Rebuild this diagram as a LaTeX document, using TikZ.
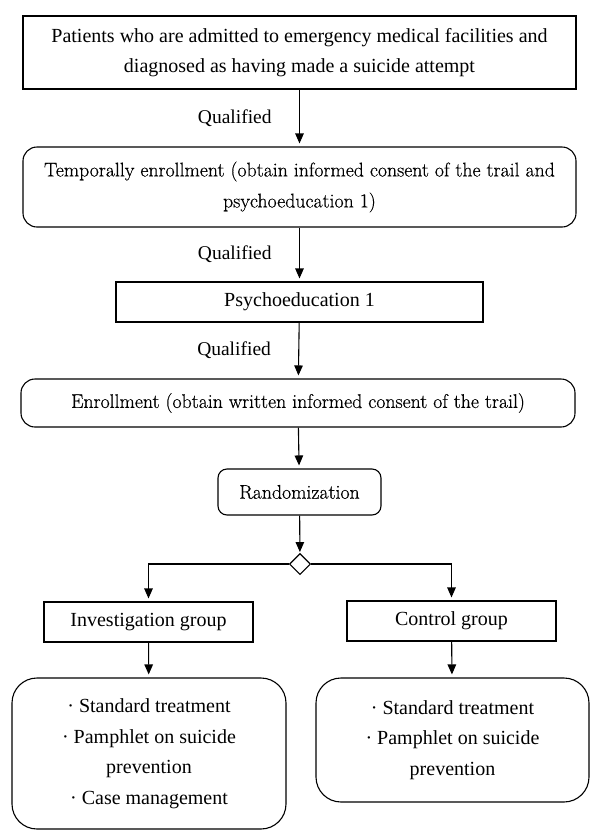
\documentclass[tikz,border=0pt]{standalone}
\usepackage{fontspec}
\setmainfont{Liberation Serif}
\newfontfamily\lmfont{Latin Modern Roman}[FakeBold=0.5]
\usetikzlibrary{arrows.meta,shapes.geometric}

\tikzset{
  sqbox/.style={draw, line width=1.1pt, align=center, inner sep=0pt,
    font=\fontsize{20}{30.5}\selectfont},
  rbox/.style={sqbox, rounded corners=14pt},
  lmbox/.style={rbox, font=\lmfont\fontsize{19.8}{31}\selectfont},
  flow/.style={line width=1.1pt, -{Triangle[length=10pt,width=8.5pt]}, shorten >=3pt},
  qlabel/.style={font=\fontsize{19.5}{24}\selectfont, left=24pt}
}

\begin{document}
\begin{tikzpicture}[x=1pt,y=1pt]
\useasboundingbox (0,0) rectangle (600,-839);
% boxes, top to bottom
\node [sqbox, minimum width=553, minimum height=73] (patients) at (299.5,-52.5)
  {Patients who are admitted to emergency medical facilities and\\ diagnosed as having made a suicide attempt};
\node [lmbox, minimum width=553, minimum height=80] (tempenrol) at (299.5,-187)
  {Temporally enrollment (obtain informed consent of the trail and\\ psychoeducation 1)};
\node [sqbox, minimum width=367, minimum height=40] (psyed) at (299.5,-302)
  {Psychoeducation 1};
\node [lmbox, minimum width=554, minimum height=48] (enrol) at (298,-403)
  {Enrollment (obtain written informed consent of the trail)};
\node [lmbox, rounded corners=9pt, minimum width=163, minimum height=46] (rand) at (299.5,-492)
  {Randomization};
\node [draw, line width=1.1pt, diamond, inner sep=0pt, minimum width=21, minimum height=21, fill=white] (split) at (300,-564) {};
% the two arms
\node [sqbox, minimum width=209, minimum height=40] (invgrp) at (148.5,-622) {Investigation group};
\node [sqbox, minimum width=209, minimum height=40] (ctrlgrp) at (451.5,-621) {Control group};
\node [rbox, rounded corners=25pt, minimum width=274, minimum height=151] (invcare) at (149,-753.5)
  {· Standard treatment\\ · Pamphlet on suicide\\ prevention\\ · Case management};
\node [rbox, rounded corners=25pt, minimum width=273, minimum height=124] (ctrlcare) at (452.5,-740)
  {· Standard treatment\\ · Pamphlet on suicide\\ prevention};
% connectors
\draw [flow] (patients) -- node [qlabel] (qual1) {Qualified} (tempenrol);
\draw [flow] (tempenrol) -- node [qlabel] (qual2) {Qualified} (psyed);
\draw [flow] (psyed) -- node [qlabel] (qual3) {Qualified} (enrol);
\draw [flow] (enrol) -- (rand);
\draw [flow, shorten >=1pt] (rand) -- (split);
\draw [flow] (split.west) -| (invgrp.north);
\draw [flow] (split.east) -| (ctrlgrp.north);
\draw [flow] (invgrp) -- (invcare);
\draw [flow] (ctrlgrp) -- (ctrlcare);
\end{tikzpicture}
\end{document}
